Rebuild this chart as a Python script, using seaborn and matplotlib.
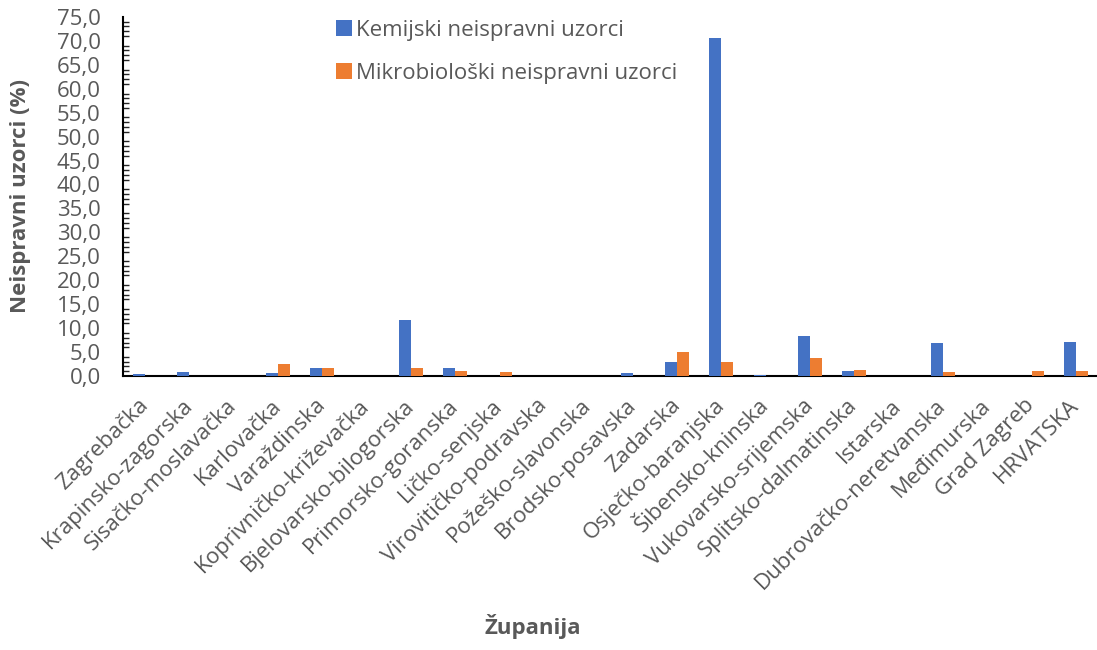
import pandas as pd
import matplotlib
matplotlib.use("Agg")
import matplotlib.pyplot as plt
import seaborn as sns
from matplotlib.ticker import MultipleLocator, FuncFormatter

zupanije = ["Zagrebačka", "Krapinsko-zagorska", "Sisačko-moslavačka", "Karlovačka",
            "Varaždinska", "Koprivničko-križevačka", "Bjelovarsko-bilogorska",
            "Primorsko-goranska", "Ličko-senjska", "Virovitičko-podravska",
            "Požeško-slavonska", "Brodsko-posavska", "Zadarska", "Osječko-baranjska",
            "Šibensko-kninska", "Vukovarsko-srijemska", "Splitsko-dalmatinska",
            "Istarska", "Dubrovačko-neretvanska", "Međimurska", "Grad Zagreb", "HRVATSKA"]
kemijski = [0.5, 0.8, 0.0, 0.6, 1.75, 0.0, 11.8, 1.6, 0.0, 0.0, 0.0, 0.55,
            2.85, 70.5, 0.3, 8.35, 1.1, 0.0, 6.9, 0.0, 0.0, 7.2]
mikrobioloski = [0.0, 0.0, 0.0, 2.6, 1.75, 0.0, 1.7, 1.1, 0.8, 0.0, 0.0, 0.0,
                 5.0, 2.85, 0.0, 3.7, 1.25, 0.0, 0.75, 0.0, 1.05, 1.1]
serije = ["Kemijski neispravni uzorci", "Mikrobiološki neispravni uzorci"]

df = pd.DataFrame({
    "Županija": zupanije * 2,
    "vrijednost": kemijski + mikrobioloski,
    "serija": [serije[0]] * len(zupanije) + [serije[1]] * len(zupanije),
})

sns.set_style("white")
plt.rcParams["font.family"] = ["Open Sans", "DejaVu Sans"]
txt = "#595959"

fig = plt.figure(figsize=(10.97, 6.5), dpi=100)
ax = fig.add_axes([0.112, 0.4215, 0.889, 0.5525])
sns.barplot(data=df, x="Županija", y="vrijednost", hue="serija",
            palette=["#4472C4", "#ED7D31"], width=0.54, saturation=1,
            linewidth=0, ax=ax, legend=True, zorder=3)

ax.set_ylim(0, 75)
ax.set_xlim(-0.5, len(zupanije) - 0.5)
ax.yaxis.set_major_locator(MultipleLocator(5))
ax.yaxis.set_minor_locator(MultipleLocator(1))
ax.yaxis.set_major_formatter(FuncFormatter(lambda v, p: f"{v:.1f}".replace(".", ",")))
ax.tick_params(axis="y", which="major", direction="inout", length=8, width=1.2,
               labelsize=16, labelcolor=txt, pad=12)
ax.tick_params(axis="y", which="minor", direction="in", length=4, width=1, left=True)
ax.tick_params(axis="x", length=0, labelsize=16, labelcolor=txt, pad=19)
plt.setp(ax.get_xticklabels(), rotation=45, ha="right", va="center", rotation_mode="anchor")

for s in ["top", "right"]:
    ax.spines[s].set_visible(False)
ax.spines["left"].set_color("black")
ax.spines["left"].set_linewidth(1.5)
ax.spines["bottom"].set_color("black")
ax.spines["bottom"].set_linewidth(1.5)

ax.set_ylabel("Neispravni uzorci (%)", fontsize=16, fontweight="bold", color=txt)
ax.yaxis.set_label_coords(-0.094, 0.5)
ax.set_xlabel("")
fig.text(0.486, 0.025, "Županija", fontsize=16, fontweight="bold", color=txt, ha="center")

leg = ax.legend(loc="upper left", bbox_to_anchor=(0.198, 1.048), frameon=False,
                fontsize=16, labelcolor=txt, handlelength=0.7, handleheight=0.7,
                handletextpad=0.2, labelspacing=1.0)

fig.savefig("out.png", dpi=100)
